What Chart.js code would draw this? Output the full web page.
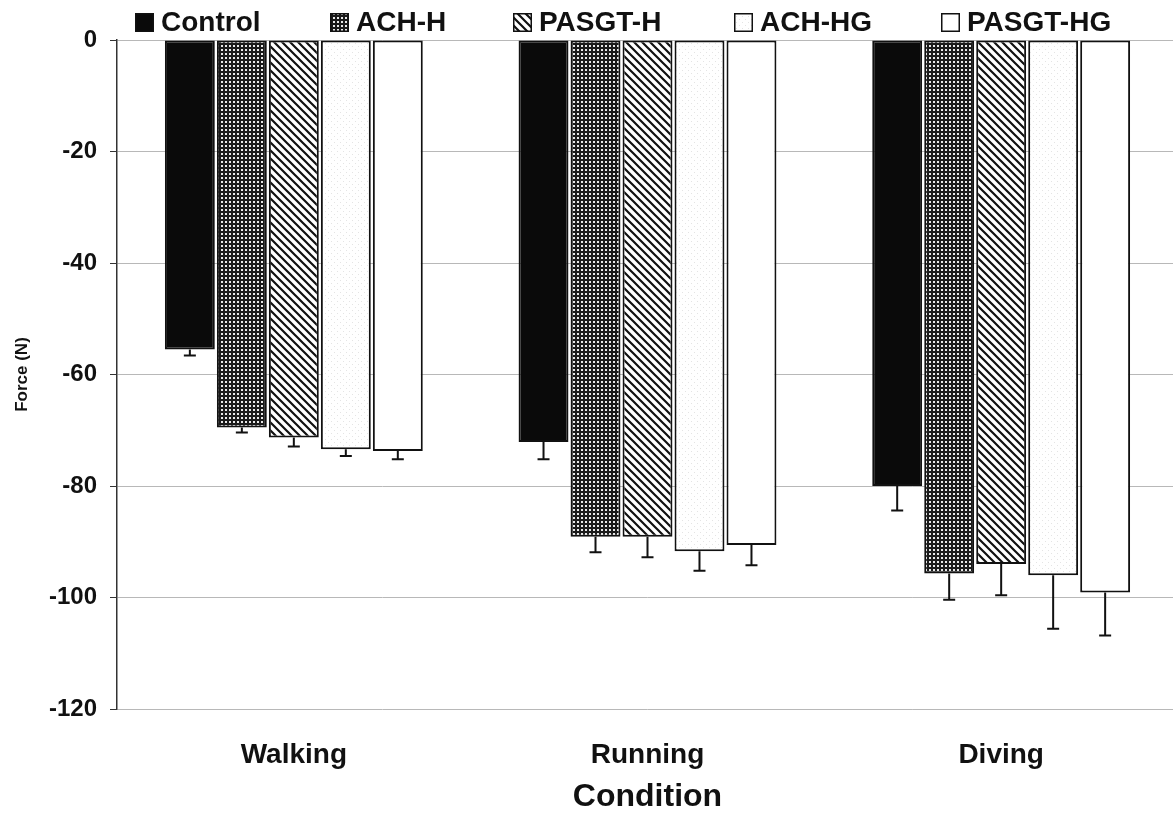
<!DOCTYPE html>
<html>
<head>
<meta charset="utf-8">
<script src="https://cdn.jsdelivr.net/npm/chart.js@4.4.1/dist/chart.umd.min.js"></script>
<style>
  html, body { margin: 0; padding: 0; background: #ffffff; overflow: hidden; }
  #wrap { width: 1178px; height: 813px; }
</style>
</head>
<body>
<div id="wrap"><canvas id="c" width="1178" height="813"></canvas></div>
<script>
// ---- data ----
const categories = ['Walking', 'Running', 'Diving'];
const seriesNames = ['Control', 'ACH-H', 'PASGT-H', 'ACH-HG', 'PASGT-HG'];
const controlValues  = [-55.5, -72.1, -80.0];
const achHValues     = [-69.5, -89.1, -95.7];
const pasgtHValues   = [-71.3, -89.1, -94.0];
const achHGValues    = [-73.4, -91.7, -96.0];
const pasgtHGValues  = [-73.7, -90.6, -99.1];
const controlErr  = [1.1, 3.1, 4.4];
const achHErr     = [0.9, 2.8, 4.7];
const pasgtHErr   = [1.6, 3.7, 5.6];
const achHGErr    = [1.2, 3.5, 9.6];
const pasgtHGErr  = [1.5, 3.6, 7.7];
const yTicks = [0, -20, -40, -60, -80, -100, -120];

const FONT = '"Liberation Sans", Arial, Helvetica, sans-serif';

// ---- patterns ----
function makePattern(kind) {
  const t = document.createElement('canvas');
  const g = t.getContext('2d');
  if (kind === 'dots') {
    t.width = 4; t.height = 4;
    g.fillStyle = '#1a1a1a'; g.fillRect(0, 0, 4, 4);
    g.fillStyle = '#e8e8e8'; g.fillRect(1, 1, 2, 2);
  } else if (kind === 'diag') {
    t.width = 8; t.height = 8;
    g.fillStyle = '#ffffff'; g.fillRect(0, 0, 8, 8);
    g.strokeStyle = '#111'; g.lineWidth = 2.2;
    g.beginPath();
    g.moveTo(-2, -2); g.lineTo(10, 10);
    g.moveTo(-10, -2); g.lineTo(2, 10);
    g.moveTo(6, -2); g.lineTo(18, 10);
    g.stroke();
  } else if (kind === 'stipple') {
    t.width = 6; t.height = 6;
    g.fillStyle = '#ffffff'; g.fillRect(0, 0, 6, 6);
    g.fillStyle = '#e4e4e4'; g.fillRect(1, 1, 1, 1); g.fillRect(4, 4, 1, 1);
  }
  return g.createPattern(t, 'repeat');
}
const ctx0 = document.getElementById('c').getContext('2d');
const fills = ['#0a0a0a', makePattern('dots'), makePattern('diag'), makePattern('stipple'), '#ffffff'];

const valueSets = [controlValues, achHValues, pasgtHValues, achHGValues, pasgtHGValues];
const errSets = [controlErr, achHErr, pasgtHErr, achHGErr, pasgtHGErr];

const datasets = seriesNames.map((name, i) => ({
  label: name,
  data: valueSets[i],
  errors: errSets[i],
  backgroundColor: fills[i],
  borderColor: '#111111',
  borderWidth: 2,
  borderSkipped: false,
  categoryPercentage: 0.735,
  barPercentage: 0.96
}));

// ---- error bars (downward only) ----
const errorBarPlugin = {
  id: 'errorBars',
  afterDatasetsDraw(chart) {
    const ctx = chart.ctx;
    const ys = chart.scales.y;
    ctx.save();
    ctx.strokeStyle = '#111';
    ctx.lineWidth = 2;
    chart.data.datasets.forEach((ds, di) => {
      const meta = chart.getDatasetMeta(di);
      meta.data.forEach((bar, j) => {
        const v = ds.data[j];
        const e = ds.errors[j];
        const yStart = ys.getPixelForValue(v);
        const yEnd = ys.getPixelForValue(v - e);
        ctx.beginPath();
        ctx.moveTo(bar.x, yStart);
        ctx.lineTo(bar.x, yEnd);
        ctx.moveTo(bar.x - 6, yEnd);
        ctx.lineTo(bar.x + 6, yEnd);
        ctx.stroke();
      });
    });
    ctx.restore();
  }
};

// ---- legend (top row) ----
const legendBoxX = [135, 330, 513, 734, 941];
const legendPlugin = {
  id: 'topLegend',
  afterDraw(chart) {
    const ctx = chart.ctx;
    ctx.save();
    chart.data.datasets.forEach((ds, i) => {
      const bx = legendBoxX[i];
      const by = 13, s = 19;
      ctx.fillStyle = ds.backgroundColor;
      ctx.fillRect(bx, by, s, s);
      ctx.strokeStyle = '#111';
      ctx.lineWidth = 1.5;
      ctx.strokeRect(bx + 0.75, by + 0.75, s - 1.5, s - 1.5);
      ctx.fillStyle = '#111';
      ctx.font = 'bold 28px ' + FONT;
      ctx.textBaseline = 'middle';
      ctx.textAlign = 'left';
      ctx.fillText(ds.label, bx + s + 7, by + s / 2 + 1);
    });
    ctx.restore();
  }
};

new Chart(ctx0, {
  type: 'bar',
  data: { labels: categories, datasets: datasets },
  options: {
    responsive: false,
    animation: false,
    layout: { padding: { top: 40, left: 0, right: 0, bottom: 0 } },
    plugins: {
      legend: { display: false },
      tooltip: { enabled: false }
    },
    scales: {
      x: {
        grid: { display: false, drawTicks: false, tickLength: 0 },
        border: { display: false },
        ticks: { color: '#111', font: { family: FONT, size: 28, weight: 'bold' }, padding: 29 },
        title: { display: true, text: 'Condition', color: '#111', font: { family: FONT, size: 32, weight: 'bold', lineHeight: 1 }, padding: 0 },
        afterFit(scale) { scale.height = 104; }
      },
      y: {
        min: -120,
        max: 0,
        afterBuildTicks(scale) { scale.ticks = yTicks.map(v => ({ value: v })); },
        grid: { color: '#b8b8b8', lineWidth: 1, tickColor: '#333', tickLength: 7, drawTicks: true },
        border: { display: true, color: '#333', width: 1.5 },
        ticks: { color: '#111', font: { family: FONT, size: 24, weight: 'bold' }, padding: 13 },
        title: { display: true, text: 'Force (N)', color: '#111', font: { family: FONT, size: 17, weight: 'bold' }, padding: { top: 12, bottom: 0 } },
        afterFit(scale) { scale.width = 117; }
      }
    }
  },
  plugins: [errorBarPlugin, legendPlugin]
});
</script>
</body>
</html>
